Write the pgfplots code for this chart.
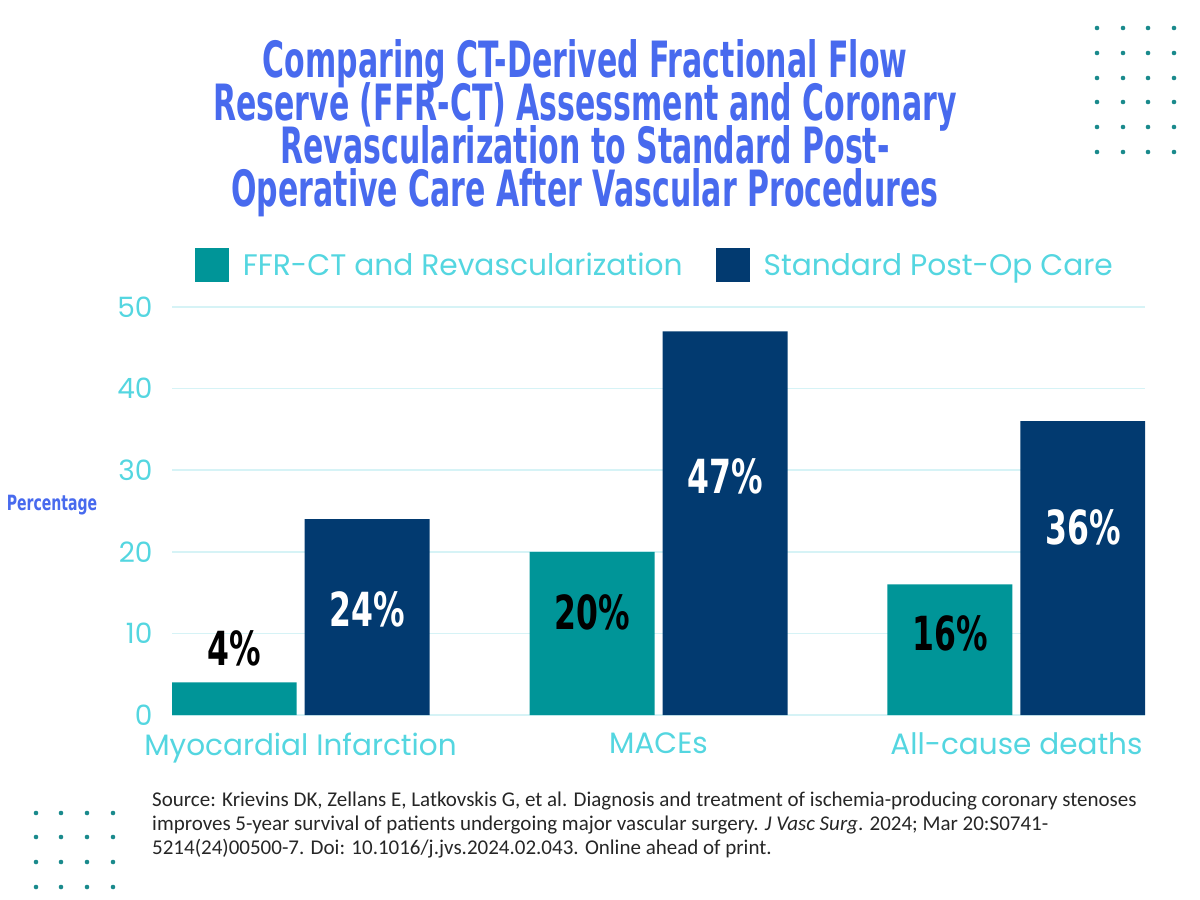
\documentclass[border=0pt]{standalone}
\usepackage{pgfplots}
\pgfplotsset{compat=1.18}
\usepackage{fontspec}
\setmainfont{Poppins}
\newfontfamily\titlefont{DejaVu Sans}[FakeStretch=0.60]
\newfontfamily\lblfont{DejaVu Sans}[FakeStretch=0.67]
\newfontfamily\srcfont{Carlito}
\newcommand\tightlines{\lineskiplimit=-100pt\relax\lineskip=0pt\relax}
\definecolor{titleblue}{RGB}{72,106,238}
\definecolor{tickcyan}{RGB}{84,214,224}
\definecolor{gridcyan}{RGB}{214,243,246}
\definecolor{barteal}{RGB}{0,149,152}
\definecolor{barnavy}{RGB}{2,58,112}
\definecolor{dotteal}{RGB}{26,138,140}
\begin{document}
\begin{tikzpicture}[x=1pt,y=1pt]
\path[use as bounding box] (0,0) rectangle (1200,-900);
% title
\node[anchor=base, align=center, text=titleblue, inner sep=0pt,
  font=\titlefont\bfseries\fontsize{50}{43}\selectfont\tightlines]
  at (585,-206) {Comparing CT-Derived Fractional Flow\\Reserve (FFR-CT) Assessment and Coronary\\Revascularization to Standard Post-\\Operative Care After Vascular Procedures};
% decorative dots
\foreach \cx in {1097,1123,1148,1174}{\foreach \cy in {28,53,78,102,127,152}{\fill[dotteal] (\cx,-\cy) circle (2.3);}}
\foreach \cx in {36,61,87,113}{\foreach \cy in {813,837,862,887}{\fill[dotteal] (\cx,-\cy) circle (2.3);}}
% source
\begin{scope}[every node/.style={anchor=base west, inner sep=0pt, font=\srcfont\fontsize{21}{21}\selectfont, text=black!85}]
\node at (152,-806) {Source: Krievins DK, Zellans E, Latkovskis G, et al. Diagnosis and treatment of ischemia-producing coronary stenoses};
\node at (152,-830) {improves 5-year survival of patients undergoing major vascular surgery. \textit{J Vasc Surg}. 2024; Mar 20:S0741-};
\node at (152,-854) {5214(24)00500-7. Doi: 10.1016/j.jvs.2024.02.043. Online ahead of print.};
\end{scope}
\begin{axis}[
  at={(172pt,-715pt)}, anchor=south west,
  scale only axis, width=973pt, height=408pt,
  xmin=-0.359, xmax=2.359, ymin=0, ymax=50,
  ybar=8pt, bar width=125pt,
  axis line style={draw=none},
  major tick length=0pt,
  ymajorgrids, grid style={gridcyan, line width=1.5pt},
  ytick={0,10,...,50},
  xtick={0,1,2}, xticklabels={Myocardial Infarction, MACEs, All-cause deaths},
  tick label style={text=tickcyan, font=\fontsize{29.5}{29.5}\selectfont},
  xticklabel style={yshift=-14pt},
  yticklabel style={font=\fontsize{28}{28}\selectfont, xshift=-16pt},
  /pgf/number format/assume math mode=true,
  ylabel={Percentage},
  ylabel style={rotate=-90, at={(axis description cs:-0.1233,0.515)}, anchor=center, text=titleblue, font=\lblfont\bfseries\fontsize{21}{21}\selectfont},
  legend columns=2,
  legend style={at={(axis description cs:0.0236,1.103)}, anchor=west, draw=none, fill=none, inner sep=0pt, outer sep=0pt,
    font=\fontsize{29.7}{29.7}\selectfont, text=tickcyan, nodes={inner sep=0pt},
    /tikz/every odd column/.append style={column sep=14pt},
    /tikz/every even column/.append style={column sep=33pt}},
  legend image code/.code={\fill[#1, draw=none] (0pt,-17pt) rectangle (34pt,17pt);},
]
\addplot[fill=barteal, draw=none] coordinates {(0,4) (1,20) (2,16)};
\addplot[fill=barnavy, draw=none] coordinates {(0,24) (1,47) (2,36)};
\legend{FFR-CT and Revascularization, Standard Post-Op Care}
\begin{scope}[every node/.style={font=\lblfont\bfseries\fontsize{47}{47}\selectfont, anchor=center}]
\node[text=black] at (axis cs:-0.1858,8.2) {4\%};
\node[text=white] at (axis cs:0.1858,12.9) {24\%};
\node[text=black] at (axis cs:0.8142,12.6) {20\%};
\node[text=white] at (axis cs:1.1858,29.2) {47\%};
\node[text=black] at (axis cs:1.8142,10.0) {16\%};
\node[text=white] at (axis cs:2.1858,23.0) {36\%};
\end{scope}
\end{axis}
\end{tikzpicture}
\end{document}
